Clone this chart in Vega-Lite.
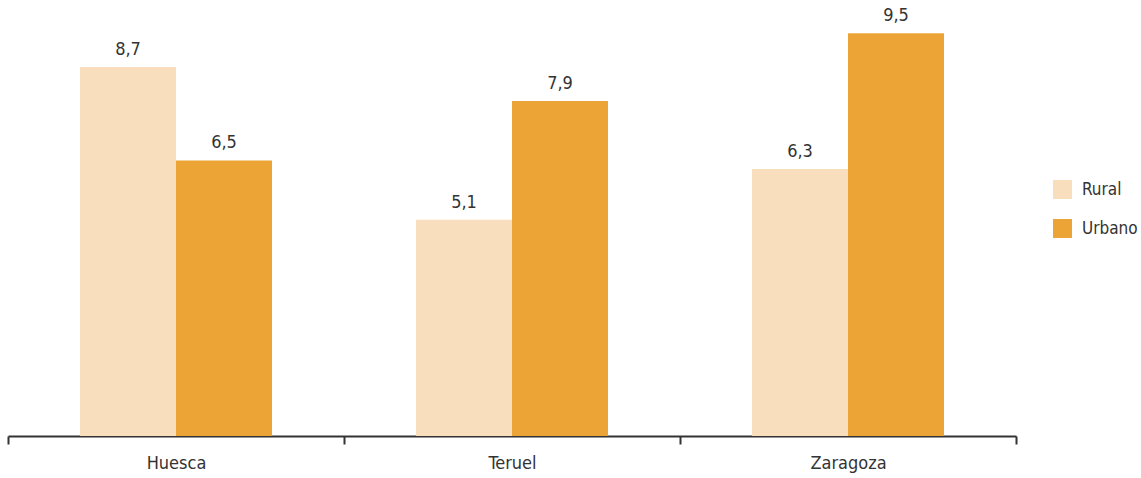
{
  "$schema": "https://vega.github.io/schema/vega-lite/v6.json",
  "width": 1008,
  "height": 424,
  "autosize": {"type": "none"},
  "padding": {"left": 8, "top": 12, "right": 125, "bottom": 42},
  "config": {
    "view": {"stroke": null},
    "font": "'Liberation Sans Narrow', 'DejaVu Sans Condensed', Roboto, sans-serif",
    "locale": {"number": {"decimal": ",", "thousands": ".", "grouping": [3], "currency": ["", " €"]}}
  },
  "data": {
    "values": [
      {"provincia": "Huesca", "tipo": "Rural", "valor": 8.7},
      {"provincia": "Huesca", "tipo": "Urbano", "valor": 6.5},
      {"provincia": "Teruel", "tipo": "Rural", "valor": 5.1},
      {"provincia": "Teruel", "tipo": "Urbano", "valor": 7.9},
      {"provincia": "Zaragoza", "tipo": "Rural", "valor": 6.3},
      {"provincia": "Zaragoza", "tipo": "Urbano", "valor": 9.5}
    ]
  },
  "encoding": {
    "x": {
      "field": "provincia",
      "type": "nominal",
      "scale": {"paddingInner": 0, "paddingOuter": 0},
      "axis": {
        "title": null,
        "labelAngle": 0,
        "tickBand": "extent",
        "domainColor": "#333333",
        "domainWidth": 2,
        "tickColor": "#333333",
        "tickWidth": 2,
        "tickSize": 8,
        "labelFontSize": 18,
        "labelColor": "#333333",
        "labelPadding": 10
      }
    },
    "xOffset": {"field": "tipo", "type": "nominal", "scale": {"paddingInner": 0, "paddingOuter": 0.75}},
    "y": {"field": "valor", "type": "quantitative", "scale": {"domain": [0, 10]}, "axis": null}
  },
  "layer": [
    {
      "mark": {"type": "bar"},
      "encoding": {
        "color": {
          "field": "tipo",
          "type": "nominal",
          "scale": {"domain": ["Rural", "Urbano"], "range": ["#F8DEBC", "#ECA437"]},
          "legend": {
            "title": null,
            "orient": "none",
            "legendX": 1045,
            "legendY": 168,
            "symbolType": "square",
            "symbolSize": 361,
            "symbolStrokeWidth": 0,
            "symbolOpacity": 1,
            "labelFontSize": 17,
            "labelColor": "#333333",
            "labelOffset": 10,
            "rowPadding": 20
          }
        }
      }
    },
    {
      "mark": {"type": "text", "baseline": "bottom", "dy": -8, "fontSize": 18, "color": "#333333"},
      "encoding": {
        "text": {"field": "valor", "type": "quantitative", "format": ".1f"}
      }
    }
  ]
}
